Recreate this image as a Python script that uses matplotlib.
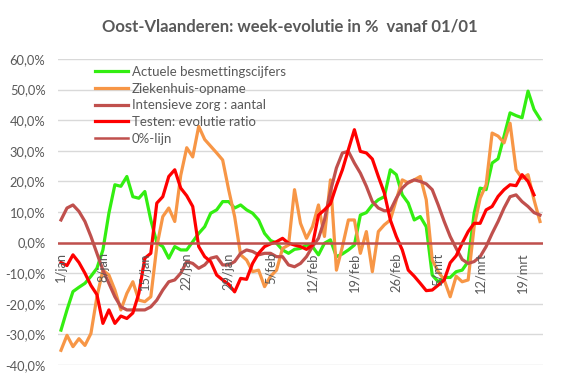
import numpy as np
import matplotlib.pyplot as plt
import matplotlib.transforms as mtransforms

plt.rcParams['font.family'] = ['Lato', 'DejaVu Sans']

# daily values, 1 jan .. 22 mrt (week evolution in %)
days = np.arange(81)
tick_days = [0, 7, 14, 21, 28, 35, 42, 49, 56, 63, 70, 77]
tick_labels = ['1/jan', '8/jan', '15/jan', '22/jan', '29/jan', '5/feb',
               '12/feb', '19/feb', '26/feb', '5/mrt', '12/mrt', '19/mrt']

besmettingen = [-28.6, -22, -16, -14.6, -13.3, -11, -8.4, -2.4, 9.6, 18.9,
                18.4, 21.6, 15, 14.5, 16.7, 7.4, 0, -1.3, -5.1, -1.3,
                -2.4, -2.4, 0.3, 3, 5.2, 9.6, 10.7, 13.4, 13.4, 11.3,
                12.3, 10.7, 9.6, 7.4, 3, 0.7, -0.2, -2.4, -3.5, -2.2,
                -1.9, -0.8, -1.3, -4, -0.2, 0.9, -4.6, -3.7, -2.4, -0.8,
                9, 9.8, 12.3, 14, 15, 23.8, 22.2, 15.6, 12.9, 7.4,
                8.5, 5.2, -10.6, -12.8, -11.4, -11.4, -9.5, -9, -6.2, 9.6,
                17.8, 17.3, 26, 27.4, 34.8, 42.4, 41.5, 40.8, 49.5, 43.5, 40.4]

ziekenhuis = [-35.2, -30.3, -34, -31.4, -33.6, -29.7, -17.7, -9, -10.6, -15.5,
              -22, -16.6, -12.8, -18.8, -19.3, -17.7, -1.3, 8.5, 11.3, 6.9,
              22, 31, 28, 38, 33.7, 31.5, 29.3, 27, 17.3, 8.5,
              -4, -5.7, -9.5, -9, -14.4, -11, -9, -1.9, -0.8, 17.3,
              6.3, 1.4, 5.2, 12.3, 2, 20.5, -9, -1.3, 7.4, 7.4,
              -3.5, 3.6, -9.5, 3.6, 5.8, 7.4, 14, 20.5, 19.5, 20.5,
              21.6, 14, -5.7, -9.5, -12.2, -17.7, -11, -12.8, -12.2, 5.2,
              14.5, 18.9, 35.8, 34.8, 32.6, 39, 23.8, 21, 22.2, 14, 6.9]

intensieve = [7.4, 11.3, 12.3, 10.2, 6.9, 2, -3.5, -9, -13.3, -17.7,
              -21, -22, -22, -22, -22, -21, -18.8, -15.5, -12.8, -12.2,
              -10, -6.2, -6.8, -8.4, -7.3, -5.1, -4.6, -7.3, -7.3, -6.2,
              -3.5, -2.4, -2.9, -4, -3.5, -3.5, -4.6, -4.6, -7.3, -7.9,
              -6.8, -4.6, -1.3, 1.4, 7.4, 16.7, 24.4, 29.3, 29.8, 26,
              22.7, 18.4, 13.4, 11.3, 10.4, 10.5, 14.5, 17.8, 19.7, 20.5,
              20, 19.2, 17.3, 12.3, 6.9, 2, -1.9, -5.5, -6.8, -6.2,
              -4.6, -1.3, 3, 6.9, 11.3, 15, 15.6, 13.4, 11.8, 9.8, 9]

testen = [-6.5, -7.5, -4, -6.5, -10, -14, -17, -26.4, -22, -26.4,
          -24, -24.8, -23, -16.6, -5.1, -3.5, 12.9, 15, 21.6, 23.8,
          17.8, 15.3, 11.8, -1.3, -4.6, -6.2, -10.6, -12.2, -13.6, -16.1,
          -11.7, -12, -6.8, -3.5, -1.3, -0.4, 0.3, 1.4, -0.2, -0.8,
          -1.3, -2.2, -0.8, 9, 10.7, 12.7, 18.6, 23.8, 30.4, 36.9,
          29.8, 29.3, 27.3, 21.6, 16.2, 7.4, 2, -2.4, -9, -11,
          -13.3, -15.7, -15.5, -13.9, -12.2, -6.6, -4.3, -0.2, 3.6, 6.3,
          6.3, 10.7, 11.8, 15.1, 17.3, 18.9, 18.6, 22.2, 20, 15.6, np.nan]

grey = '#595959'

fig = plt.figure(figsize=(5.81, 3.76), dpi=100)
ax = fig.add_axes([58 / 581, 11 / 376, 485 / 581, 306 / 376])

ax.plot(days, besmettingen, color='#33EE11', lw=2.3, label='Actuele besmettingscijfers')
ax.plot(days, ziekenhuis, color='#F79646', lw=2.3, label='Ziekenhuis-opname')
ax.plot(days, intensieve, color='#C0504D', lw=2.3, label='Intensieve zorg : aantal')
ax.plot(days, testen, color='#FF0000', lw=2.3, label='Testen: evolutie ratio')
ax.axhline(0, color='#C0504D', lw=1.8, label='0%-lijn')

ax.set_xlim(-0.5, 80.5)
ax.set_ylim(-40, 60)
ax.set_yticks(np.arange(-40, 61, 10))
ax.set_yticklabels([f'{v:.1f}%'.replace('.', ',') for v in np.arange(-40, 61, 10)])
ax.grid(axis='y', color='#D9D9D9', lw=1)
ax.set_axisbelow(True)
ax.set_xticks([])
for s in ax.spines.values():
    s.set_visible(False)
ax.tick_params(axis='y', length=0, pad=9, labelsize=9.3, labelcolor=grey)

# category labels hang below the 0% line
below = mtransforms.offset_copy(ax.transData, fig=fig, y=-7, units='points')
for d, lab in zip(tick_days, tick_labels):
    ax.text(d, 0, lab, rotation=90, ha='center', va='top', fontsize=9.3,
            color=grey, transform=below)

leg = ax.legend(loc='upper left', bbox_to_anchor=(0.065, 0.995), frameon=False,
                fontsize=9.5, handlelength=2.5, handletextpad=0.3,
                labelspacing=0.36, borderaxespad=0)
for t in leg.get_texts():
    t.set_color(grey)

fig.text(290 / 581, 1 - 26 / 376, 'Oost-Vlaanderen: week-evolutie in %  vanaf 01/01',
         ha='center', va='center', fontsize=12, fontweight='bold', color=grey)

fig.savefig('out.png', dpi=100)
